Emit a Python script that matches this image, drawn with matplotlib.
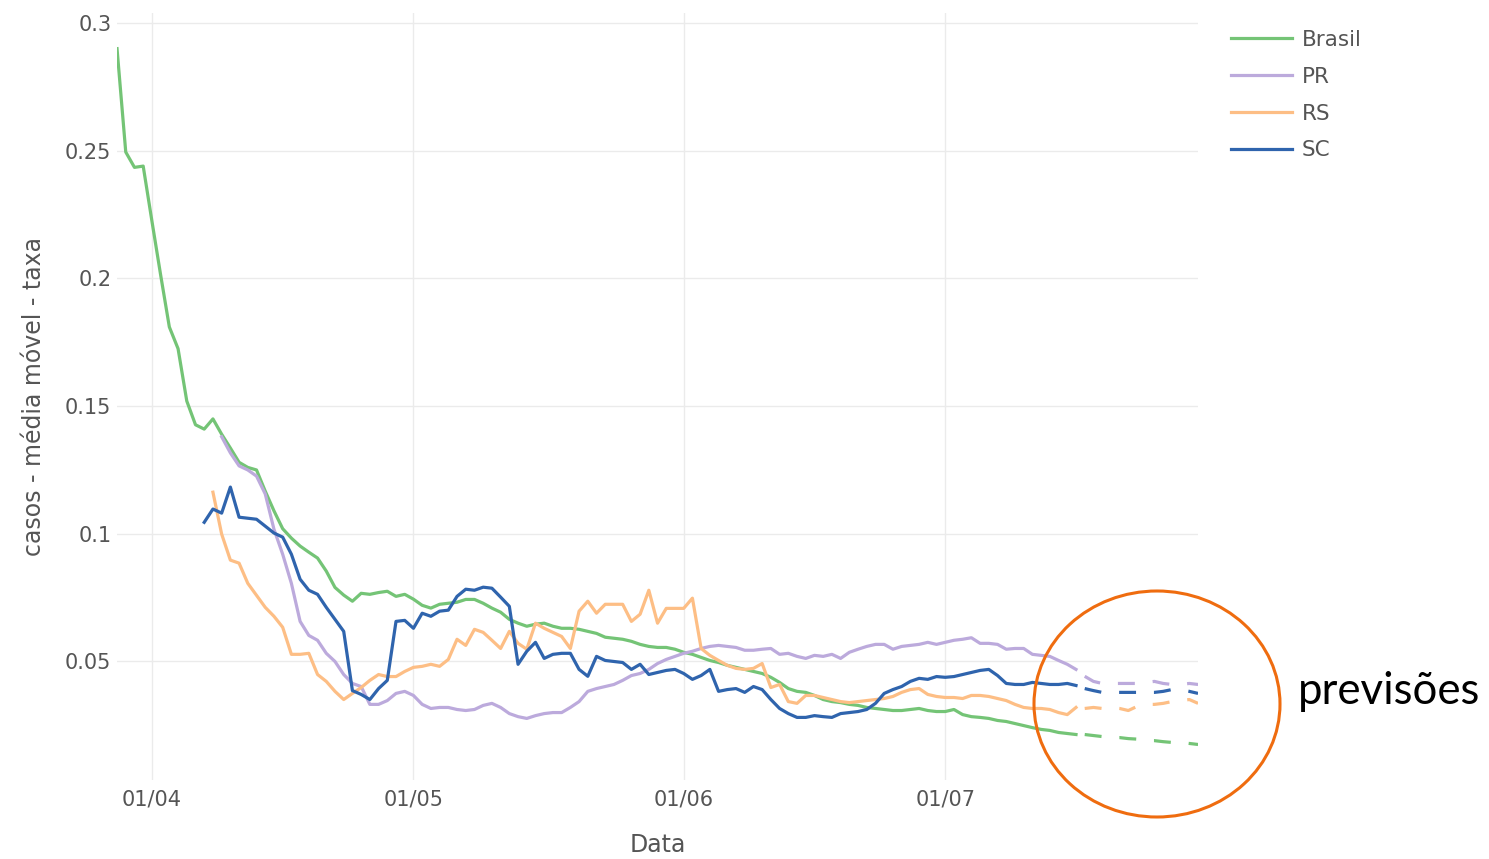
import pandas as pd
import matplotlib
matplotlib.use("Agg")
import matplotlib.pyplot as plt
import matplotlib.dates as mdates
from matplotlib.patches import Ellipse

# media movel da taxa de casos (leitura diaria)
brasil = [0.290, 0.2495, 0.2435, 0.244,
          0.2225, 0.2014, 0.181, 0.1725, 0.152, 0.1427, 0.141, 0.145, 0.139, 0.1336,
          0.128, 0.126, 0.125, 0.1167, 0.109, 0.102, 0.0983, 0.0952, 0.0928, 0.0905,
          0.0854, 0.079, 0.076, 0.0736, 0.0767, 0.0763, 0.077, 0.0775, 0.0755, 0.0763,
          0.0744, 0.072, 0.0709, 0.0724, 0.0728, 0.0732, 0.0743, 0.0743, 0.0728, 0.0709,
          0.0693, 0.0665, 0.065, 0.0638, 0.0646, 0.065, 0.0638, 0.063, 0.063, 0.0626,
          0.0618, 0.061, 0.0595, 0.0591, 0.0587, 0.0579, 0.0567, 0.0559, 0.0555, 0.0555, 0.0548,
          0.0536, 0.0528, 0.0516, 0.0504, 0.0496, 0.0485, 0.0477, 0.0469, 0.0461, 0.0453,
          0.0438, 0.0418, 0.0394, 0.0383, 0.0379, 0.0367, 0.0351, 0.0343, 0.0339, 0.0332,
          0.0328, 0.032, 0.0316, 0.0312, 0.0308, 0.0308, 0.0312, 0.0316, 0.0308, 0.0304,
          0.0304, 0.0312, 0.0292, 0.0284, 0.0281, 0.0277, 0.0269, 0.0265, 0.0257, 0.0249,
          0.0241, 0.0234, 0.023, 0.0222, 0.0218, 0.0214]

pr = [0.138, 0.1317,
      0.1266, 0.125, 0.1226, 0.1156, 0.1018, 0.092, 0.0806, 0.0657, 0.0602, 0.0583,
      0.0532, 0.05, 0.0449, 0.0414, 0.0402, 0.0332, 0.0332, 0.0347, 0.0375, 0.0383,
      0.0367, 0.0332, 0.0316, 0.032, 0.032, 0.0312, 0.0308, 0.0312, 0.0328, 0.0336,
      0.032, 0.0296, 0.0284, 0.0277, 0.0288, 0.0296, 0.03, 0.03, 0.032, 0.0343,
      0.0383, 0.0394, 0.0402, 0.041, 0.0426, 0.0445, 0.0453, 0.0469, 0.0492, 0.0508, 0.052,
      0.0532, 0.054, 0.0551, 0.0559, 0.0563, 0.0559, 0.0555, 0.0544, 0.0544, 0.0548,
      0.0551, 0.0528, 0.0532, 0.052, 0.0512, 0.0524, 0.052, 0.0528, 0.0512, 0.0536,
      0.0548, 0.0559, 0.0567, 0.0567, 0.0548, 0.0559, 0.0563, 0.0567, 0.0575, 0.0567,
      0.0575, 0.0583, 0.0587, 0.0593, 0.0571, 0.0571, 0.0567, 0.0548, 0.0551, 0.0551,
      0.0528, 0.0524, 0.052, 0.0504, 0.0489, 0.0469]

rs = [0.1163, 0.0999, 0.0897,
      0.0885, 0.0806, 0.0759, 0.0712, 0.0677, 0.0634, 0.0528, 0.0528, 0.0532, 0.0449,
      0.0422, 0.0383, 0.0351, 0.0375, 0.0398, 0.0426, 0.0449, 0.0441, 0.0441, 0.0461,
      0.0477, 0.0481, 0.0489, 0.0481, 0.0508, 0.0587, 0.0563, 0.0626, 0.0614, 0.0583,
      0.0551, 0.0618, 0.0571, 0.0548, 0.065, 0.063, 0.0614, 0.0598, 0.0551, 0.0697,
      0.0736, 0.0689, 0.0724, 0.0724, 0.0724, 0.0657, 0.0685, 0.0779, 0.065, 0.0708, 0.0708,
      0.0708, 0.0748, 0.0551, 0.0524, 0.0504, 0.0485, 0.0473, 0.0469, 0.0473, 0.0492,
      0.0398, 0.041, 0.0343, 0.0336, 0.0367, 0.0367, 0.0359, 0.0351, 0.0343, 0.0339,
      0.0343, 0.0347, 0.0351, 0.0355, 0.0363, 0.0379, 0.039, 0.0394, 0.0371, 0.0363,
      0.0359, 0.0359, 0.0355, 0.0367, 0.0367, 0.0363, 0.0355, 0.0347, 0.0332, 0.032,
      0.0316, 0.0316, 0.0312, 0.03, 0.0292, 0.032]

sc = [0.1045, 0.1097, 0.1081, 0.1183,
      0.1065, 0.1061, 0.1057, 0.103, 0.1003, 0.0987, 0.092, 0.0822, 0.0779, 0.0763,
      0.0712, 0.0665, 0.0618, 0.0386, 0.0371, 0.0351, 0.0394, 0.0426, 0.0657, 0.0661,
      0.063, 0.0689, 0.0677, 0.0697, 0.0701, 0.0755, 0.0783, 0.0779, 0.0791, 0.0787,
      0.0752, 0.0716, 0.0489, 0.054, 0.0575, 0.0512, 0.0528, 0.0532, 0.0532, 0.0469,
      0.0442, 0.052, 0.0504, 0.05, 0.0496, 0.0469, 0.0489, 0.0449, 0.0457, 0.0465, 0.0469,
      0.0453, 0.043, 0.0445, 0.0469, 0.0383, 0.039, 0.0394, 0.0379, 0.0402, 0.039,
      0.0351, 0.0316, 0.0296, 0.0281, 0.0281, 0.0288, 0.0284, 0.0281, 0.0296, 0.03,
      0.0304, 0.0312, 0.0336, 0.0375, 0.039, 0.0402, 0.0422, 0.0434, 0.043, 0.0441,
      0.0438, 0.0441, 0.0449, 0.0457, 0.0465, 0.0469, 0.0445, 0.0414, 0.041, 0.041,
      0.0418, 0.0414, 0.041, 0.041, 0.0414, 0.0406]

# previsoes 17/07 a 30/07
brasil_prev = [0.0214, 0.021, 0.0206, 0.0202, 0.0202, 0.0198, 0.0196,
               0.019, 0.019, 0.0186, 0.0183, 0.0183, 0.0179, 0.0175]
pr_prev = [0.0442, 0.0422, 0.0414, 0.0414, 0.0414, 0.0414, 0.0414,
           0.0418, 0.0422, 0.0414, 0.041, 0.041, 0.0414, 0.041]
rs_prev = [0.0316, 0.032, 0.0316, 0.032, 0.0316, 0.0308, 0.0324,
           0.0332, 0.0332, 0.0336, 0.0343, 0.0347, 0.0351, 0.0336]
sc_prev = [0.0394, 0.0386, 0.0379, 0.0379, 0.0379, 0.0379, 0.0379,
           0.0379, 0.0379, 0.0383, 0.039, 0.039, 0.0383, 0.0375]

series = [
    ("Brasil", "2020-03-28", brasil, brasil_prev, "#74c476"),
    ("PR", "2020-04-09", pr, pr_prev, "#bcaadc"),
    ("RS", "2020-04-08", rs, rs_prev, "#fdbe85"),
    ("SC", "2020-04-07", sc, sc_prev, "#2f64ad"),
]
PREV_START = "2020-07-17"

plt.rcParams["font.family"] = ["DejaVu Sans"]
TXT = "#555555"
LW = 2.3

fig = plt.figure(figsize=(14.89, 8.59), dpi=100)
ax = fig.add_axes([0.0786, 0.092, 0.726, 0.893])

for name, start, vals, prev, color in series:
    dates = pd.date_range(start, periods=len(vals), freq="D")
    ax.plot(dates, vals, color=color, lw=LW, label=name, solid_joinstyle="round")
    pdates = pd.date_range(PREV_START, periods=len(prev), freq="D")
    ax.plot(pdates, prev, color=color, lw=LW, dashes=(5.3, 5.6), label="_nolegend_")

ax.set_xlim(pd.Timestamp("2020-03-28"), pd.Timestamp("2020-07-30"))
ax.set_ylim(0.0036, 0.304)

ax.xaxis.set_major_locator(mdates.MonthLocator())
ax.xaxis.set_major_formatter(mdates.DateFormatter("%d/%m"))
ax.set_yticks([0.05, 0.1, 0.15, 0.2, 0.25, 0.3])
ax.set_yticklabels(["0.05", "0.1", "0.15", "0.2", "0.25", "0.3"])

ax.grid(True, color="#ebebeb", lw=1)
ax.set_axisbelow(True)
for s in ax.spines.values():
    s.set_visible(False)
ax.tick_params(length=0, labelsize=15, colors=TXT)
ax.tick_params(axis="x", pad=7)
ax.tick_params(axis="y", pad=4)

ax.set_xlabel("Data", fontsize=17, color=TXT, labelpad=17)
ax.set_ylabel("casos - média móvel - taxa", fontsize=17, color=TXT, labelpad=14)

ax.legend(loc="upper left", bbox_to_anchor=(1.013, 1.003), frameon=False,
          fontsize=15.5, handlelength=2.8, handletextpad=0.45, labelspacing=0.78,
          labelcolor=TXT)

# destaque das previsoes
over = fig.add_axes([0, 0, 1, 1], facecolor="none")
over.set_xlim(0, 1489)
over.set_ylim(859, 0)
over.axis("off")
over.add_patch(Ellipse((1157, 704), 246, 226, fill=False, ec="#ef6c0f", lw=2.2))
over.text(1298, 692, "previsões", fontsize=31.5, family="Lato", color="black",
          va="center", ha="left")

fig.savefig("out.png", dpi=100)
print("saved: out.png")
